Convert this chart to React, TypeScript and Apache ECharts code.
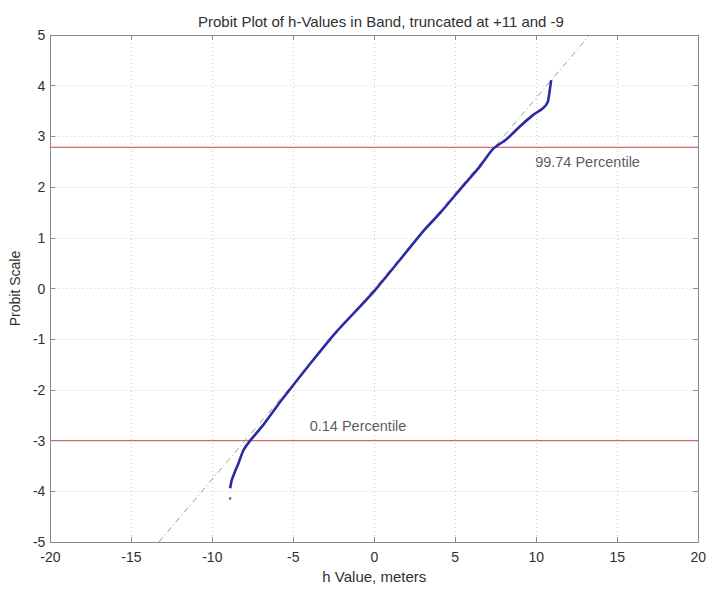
import React, { useEffect, useRef } from "react";
import * as echarts from "echarts";

const titleText = "Probit Plot of h-Values in Band, truncated at +11 and -9";
const xName = "h Value, meters";
const yName = "Probit Scale";

// Observed data (probit of sorted h values)
const blueX = [-8.9, -8.8, -8.6, -8.39, -8.08, -7.71, -6.85, -5.72, -4.0, -2.33, 0, 3.08, 4.04, 5.5, 6.5, 7.32, 8.15, 8.97, 9.79, 10.4, 10.71, 10.82, 10.92];
const blueY = [-3.94, -3.78, -3.61, -3.45, -3.19, -3.02, -2.69, -2.2, -1.5, -0.85, -0.05, 1.15, 1.48, 2.03, 2.4, 2.75, 2.94, 3.19, 3.42, 3.55, 3.68, 3.88, 4.11];
const outlierX = [-8.9];
const outlierY = [-4.14];

// Normal reference line
const refX = [-13.3, 13.3];
const refY = [-5, 5];

// Percentile lines
const pctLevels = [2.785, -3.0];
const pctLabels = ["99.74 Percentile", "0.14 Percentile"];
const pctLabelX = [9.9, -4.02];
const pctLabelY = [2.5, -2.72];

const FONT = "'Liberation Sans', Arial, Helvetica, sans-serif";

export default function App() {
  const ref = useRef<HTMLDivElement>(null);
  useEffect(() => {
    if (!ref.current) return;
    const chart = echarts.init(ref.current, undefined, { renderer: "svg" });
    const axisColor = "#8a8a8a";
    const textColor = "#303030";
    const grid = { left: 50, right: 10, top: 35, bottom: 47 };
    const splitLine = { show: true, lineStyle: { color: "#cdcdcd", type: [1, 3] as any, width: 1 } };
    const option: any = {
      animation: false,
      backgroundColor: "#ffffff",
      textStyle: { fontFamily: FONT },
      title: {
        text: titleText,
        left: 376,
        top: 9,
        textAlign: "center",
        textStyle: { fontSize: 15, fontWeight: "normal", color: textColor, fontFamily: FONT },
      },
      grid,
      xAxis: [
        {
          type: "value",
          min: -20,
          max: 20,
          interval: 5,
          name: xName,
          nameLocation: "middle",
          nameGap: 27,
          nameTextStyle: { fontSize: 15, color: textColor, fontFamily: FONT },
          axisLine: { show: true, onZero: false, lineStyle: { color: axisColor, width: 1 } },
          axisTick: { show: true, inside: true, length: 5, lineStyle: { color: axisColor } },
          axisLabel: { fontSize: 14, color: textColor, margin: 8, fontFamily: FONT },
          splitLine,
        },
        {
          type: "value",
          position: "top",
          min: -20,
          max: 20,
          interval: 5,
          axisLine: { show: true, onZero: false, lineStyle: { color: axisColor, width: 1 } },
          axisTick: { show: true, inside: true, length: 5, lineStyle: { color: axisColor } },
          axisLabel: { show: false },
          splitLine: { show: false },
        },
      ],
      yAxis: [
        {
          type: "value",
          min: -5,
          max: 5,
          interval: 1,
          name: yName,
          nameLocation: "middle",
          nameGap: 21,
          nameTextStyle: { fontSize: 14, color: textColor, fontFamily: FONT },
          axisLine: { show: true, onZero: false, lineStyle: { color: axisColor, width: 1 } },
          axisTick: { show: true, inside: true, length: 5, lineStyle: { color: axisColor } },
          axisLabel: { fontSize: 14, color: textColor, margin: 5, fontFamily: FONT },
          splitLine,
        },
        {
          type: "value",
          position: "right",
          min: -5,
          max: 5,
          interval: 1,
          axisLine: { show: true, onZero: false, lineStyle: { color: axisColor, width: 1 } },
          axisTick: { show: true, inside: true, length: 5, lineStyle: { color: axisColor } },
          axisLabel: { show: false },
          splitLine: { show: false },
        },
      ],
      series: [
        ...pctLevels.map((lv) => ({
          type: "line",
          xAxisIndex: 0,
          yAxisIndex: 0,
          data: [
            [-20, lv],
            [20, lv],
          ],
          symbol: "none",
          z: 3,
          lineStyle: { color: "#d46a6a", width: 1.2 },
          silent: true,
        })),
        {
          type: "line",
          xAxisIndex: 0,
          yAxisIndex: 0,
          data: refX.map((x, i) => [x, refY[i]]),
          symbol: "none",
          lineStyle: { color: "#9a9a9a", width: 1, type: [6, 3, 1, 3] },
          silent: true,
        },
        {
          type: "line",
          xAxisIndex: 0,
          yAxisIndex: 0,
          data: blueX.map((x, i) => [x, blueY[i]]),
          symbol: "none",
          smooth: 0.2,
          z: 4,
          lineStyle: { color: "#2b2ba6", width: 2.6 },
          silent: true,
        },
        {
          type: "scatter",
          xAxisIndex: 0,
          yAxisIndex: 0,
          data: outlierX.map((x, i) => [x, outlierY[i]]),
          symbol: "circle",
          symbolSize: 2.5,
          itemStyle: { color: "#2b2ba6" },
          silent: true,
        },
        {
          type: "scatter",
          xAxisIndex: 0,
          yAxisIndex: 0,
          data: pctLabelX.map((x, i) => ({ value: [x, pctLabelY[i]], name: pctLabels[i] })),
          symbol: "circle",
          symbolSize: 1,
          itemStyle: { color: "rgba(255,255,255,0)" },
          label: {
            show: true,
            position: "right",
            distance: 0,
            formatter: (p: any) => p.name,
            fontSize: 14.5,
            color: textColor,
            fontFamily: FONT,
          },
          silent: true,
        },
      ],
    };
    chart.setOption(option);
    return () => chart.dispose();
  }, []);
  return (
    <div
      ref={ref}
      style={{ position: "fixed", left: 0, top: 0, width: 709, height: 589, background: "#fff" }}
    />
  );
}
